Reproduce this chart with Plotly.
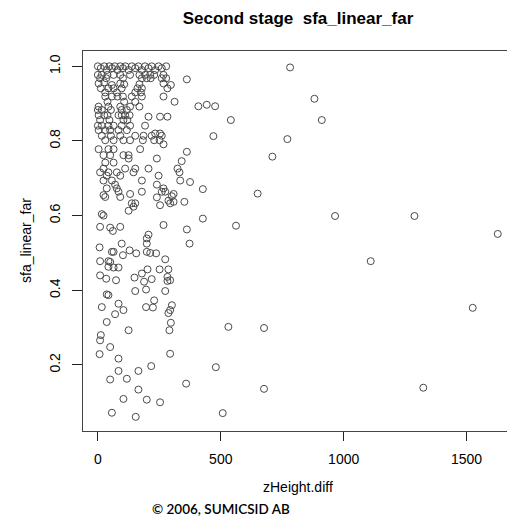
import plotly.graph_objects as go

# zHeight.diff values (x) and sfa_linear_far values (y)
z_height_diff = [
    0, 12, 26, 36, 47, 58, 69, 80, 91, 102, 112, 125, 138, 152, 165, 179, 192, 206, 219, 233, 247, 260, 278,
    0, 16, 39, 64, 91, 131, 169, 192, 213, 229, 267,
    9, 34, 102, 179, 199, 215, 260, 278,
    362, 782,
    3, 26, 57, 91, 107, 169, 267, 297,
    12, 43, 64, 97, 161, 179, 283,
    30, 77, 152, 175,
    30, 57, 80, 102, 138, 179, 267,
    39, 107, 152, 312,
    409, 443, 477, 881,
    3, 43, 91, 131, 169,
    0, 16, 53, 97, 118,
    3, 26, 39, 84, 97, 111, 129,
    206, 253, 283,
    9, 47, 104, 120, 541, 911,
    0, 16, 43, 64, 97, 131, 192,
    3, 30, 50, 84, 118,
    233, 253, 470, 771,
    16, 53, 91, 152, 186, 219, 260,
    30, 64, 104, 131, 183, 229, 251,
    267,
    3, 43, 64, 172,
    362,
    23, 50, 104, 125,
    710,
    125, 240, 341,
    30, 64,
    23, 111, 152, 206, 324,
    9, 43, 77, 145, 332,
    36, 91, 247,
    23, 57, 179, 335, 375,
    427, 650,
    70, 240,
    36, 77, 267,
    23, 30, 84, 91, 131, 179, 260, 274, 308, 301, 240,
    253, 294, 287, 308, 352,
    138, 152, 145, 125,
    427, 16, 23, 267, 562,
    9, 50, 61, 91,
    206, 199, 199, 362, 373, 7, 97,
    57, 64, 102, 129, 156, 199, 213, 237, 274,
    9, 43, 50, 43, 64, 84,
    9, 34, 74, 149, 179, 188, 202, 219,
    251, 287, 283, 283, 294, 274,
    36, 43, 152, 196, 229,
    16, 84, 104, 196, 224, 294, 301, 287,
    70, 36, 125, 297, 291,
    965, 1288, 1627, 1110, 531, 676,
    12, 9, 50, 7, 84, 294, 84, 165, 217, 50, 118, 359, 165, 104, 199, 253, 57, 154,
    480, 676, 508, 1525, 1324,
]

sfa_linear_far = [
    1.0, 0.995, 1.0, 0.99, 1.0, 0.995, 1.0, 0.99, 1.0, 0.995, 1.0, 0.99, 1.0, 0.995, 1.0, 0.99, 1.0, 0.995, 1.0, 0.99, 1.0, 0.995, 1.0,
    0.977, 0.977, 0.977, 0.977, 0.977, 0.977, 0.977, 0.977, 0.977, 0.977, 0.977,
    0.968, 0.968, 0.968, 0.968, 0.968, 0.968, 0.968, 0.968,
    0.965, 0.997,
    0.954, 0.957, 0.950, 0.954, 0.952, 0.952, 0.954, 0.950,
    0.941, 0.941, 0.941, 0.941, 0.941, 0.941, 0.941,
    0.930, 0.930, 0.930, 0.930,
    0.919, 0.919, 0.919, 0.919, 0.919, 0.919, 0.919,
    0.905, 0.905, 0.905, 0.905,
    0.893, 0.897, 0.893, 0.913,
    0.892, 0.892, 0.892, 0.892, 0.892,
    0.883, 0.883, 0.883, 0.883, 0.883,
    0.869, 0.869, 0.869, 0.869, 0.869, 0.869, 0.869,
    0.865, 0.865, 0.865,
    0.856, 0.856, 0.856, 0.856, 0.856, 0.856,
    0.841, 0.841, 0.841, 0.841, 0.841, 0.841, 0.841,
    0.829, 0.829, 0.829, 0.829, 0.829,
    0.820, 0.820, 0.813, 0.805,
    0.814, 0.814, 0.814, 0.814, 0.814, 0.814, 0.814,
    0.802, 0.802, 0.802, 0.802, 0.802, 0.802, 0.802,
    0.791,
    0.778, 0.778, 0.778, 0.778,
    0.771,
    0.762, 0.762, 0.762, 0.762,
    0.758,
    0.753, 0.753, 0.746,
    0.742, 0.742,
    0.726, 0.726, 0.726, 0.726, 0.726,
    0.716, 0.716, 0.716, 0.716, 0.716,
    0.707, 0.707, 0.707,
    0.694, 0.694, 0.694, 0.694, 0.690,
    0.671, 0.659,
    0.683, 0.683,
    0.673, 0.673, 0.673,
    0.655, 0.650, 0.664, 0.650, 0.658, 0.664, 0.664, 0.664, 0.658, 0.652, 0.649,
    0.628, 0.633, 0.640, 0.637, 0.637,
    0.633, 0.633, 0.624, 0.613,
    0.592, 0.604, 0.600, 0.575, 0.573,
    0.570, 0.568, 0.559, 0.570,
    0.549, 0.539, 0.525, 0.563, 0.525, 0.515, 0.525,
    0.503, 0.503, 0.494, 0.507, 0.499, 0.503, 0.500, 0.499, 0.483,
    0.478, 0.478, 0.476, 0.463, 0.461, 0.461,
    0.440, 0.431, 0.427, 0.434, 0.445, 0.423, 0.456, 0.430,
    0.456, 0.456, 0.436, 0.425, 0.427, 0.398,
    0.389, 0.387, 0.398, 0.402, 0.373,
    0.355, 0.364, 0.347, 0.355, 0.354, 0.347, 0.360, 0.339,
    0.336, 0.315, 0.293, 0.313, 0.293,
    0.599, 0.599, 0.551, 0.478, 0.302, 0.299,
    0.280, 0.266, 0.248, 0.229, 0.217, 0.230, 0.184, 0.184, 0.197, 0.161, 0.163, 0.150, 0.134, 0.109, 0.107, 0.100, 0.072, 0.061,
    0.194, 0.136, 0.071, 0.353, 0.139,
]

x_ticks = [0, 500, 1000, 1500]
y_ticks = [0.2, 0.4, 0.6, 0.8, 1.0]
y_tick_labels = ["0.2", "0.4", "0.6", "0.8", "1.0"]

fig = go.Figure()
fig.add_trace(go.Scatter(
    x=z_height_diff, y=sfa_linear_far, mode="markers",
    marker=dict(symbol="circle-open", size=7, color="#4a4a4a", line=dict(width=1, color="#4a4a4a")),
    showlegend=False, hoverinfo="x+y",
))

font_main = "Liberation Sans, Arial, sans-serif"
fig.update_layout(
    width=507, height=522,
    margin=dict(l=83, r=0, t=51, b=91),
    paper_bgcolor="white", plot_bgcolor="white",
    font=dict(family=font_main, size=14, color="black"),
    title=dict(text="<b>Second stage  sfa_linear_far</b>", x=298/507, xref="container", xanchor="center",
               y=1 - 18/522, yref="container", yanchor="middle",
               font=dict(family=font_main, size=17, color="black")),
    xaxis=dict(range=[-60.5, 1664.5], tickvals=x_ticks, ticktext=[str(t) for t in x_ticks],
               showgrid=False, zeroline=False, showline=True, linecolor="#444", linewidth=1.3,
               mirror=True, ticks="outside", ticklen=9, tickcolor="#222", tickwidth=1,
               ticklabelstandoff=6, tickfont=dict(size=14)),
    yaxis=dict(range=[0.0231, 1.041], tickvals=y_ticks, ticktext=y_tick_labels,
               showgrid=False, zeroline=False, showline=True, linecolor="#444", linewidth=1.3,
               mirror=False, ticks="outside", ticklen=10, tickcolor="#222", tickwidth=1,
               tickangle=-90, ticklabelstandoff=6, tickfont=dict(size=14)),
    annotations=[
        dict(text="zHeight.diff", x=(298-83)/424, y=(430.7-487)/379.7, xref="paper", yref="paper",
             showarrow=False, xanchor="center", yanchor="middle", font=dict(size=14)),
        dict(text="sfa_linear_far", x=(26-83)/424, y=0.5, xref="paper", yref="paper", textangle=-90,
             showarrow=False, xanchor="center", yanchor="middle", font=dict(size=14)),
        dict(text="© 2006, SUMICSID AB", x=(221-83)/424, y=(430.7-509)/379.7, xref="paper", yref="paper",
             showarrow=False, xanchor="center", yanchor="middle",
             font=dict(family="Lato, sans-serif", size=13.5, color="black", weight=600)),
    ],
)

fig.write_html("out.html")
